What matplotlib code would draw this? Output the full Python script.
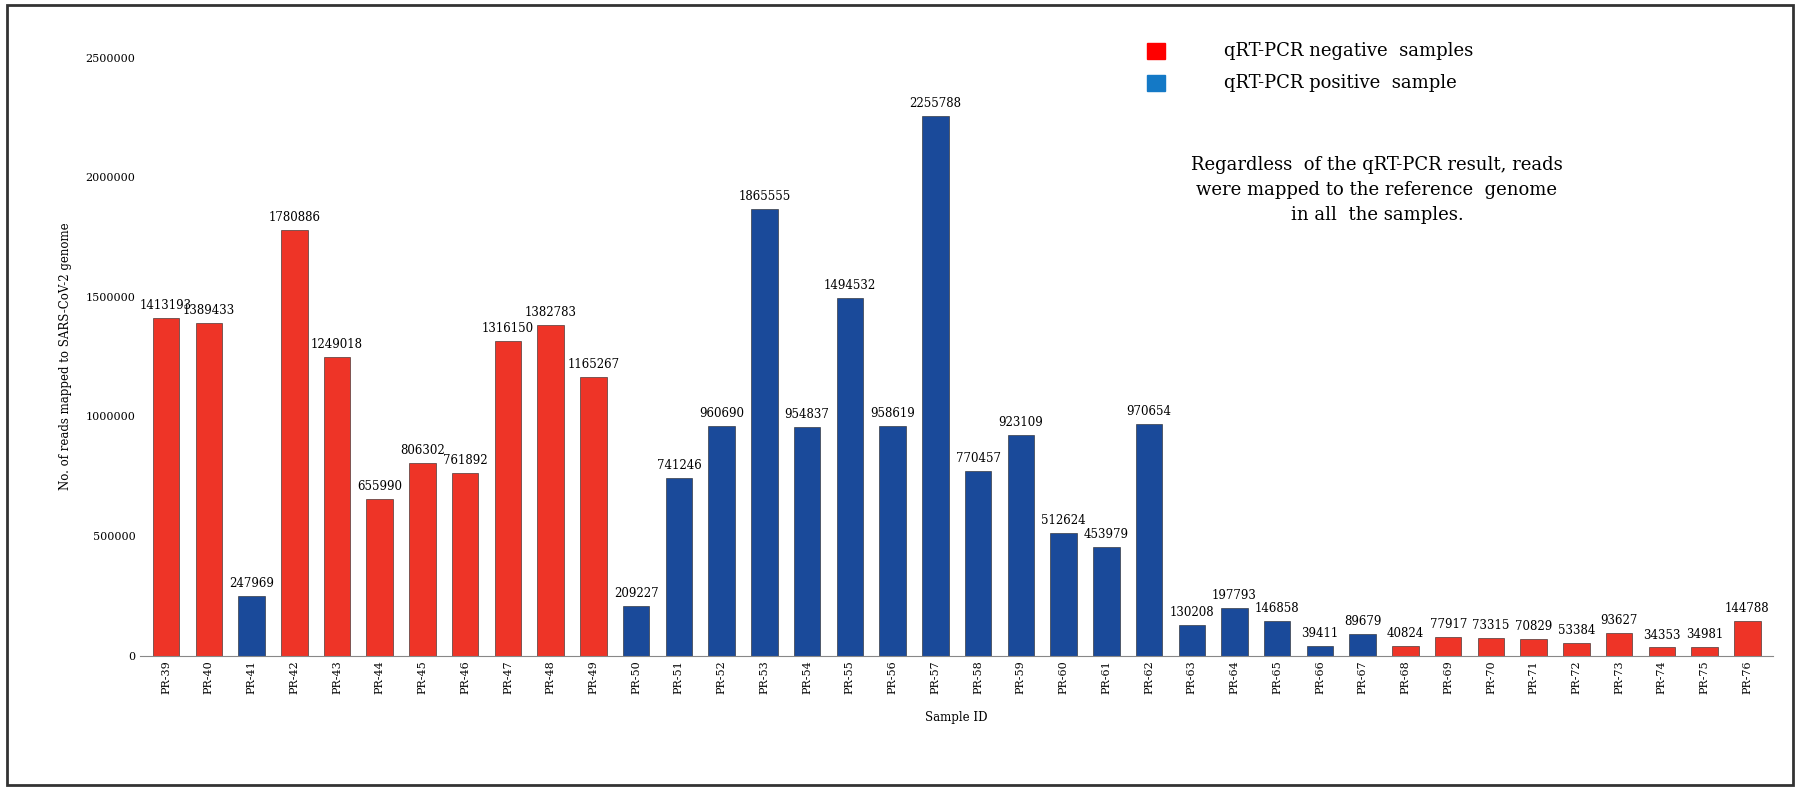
import matplotlib
matplotlib.use("Agg")
import matplotlib.pyplot as plt
from matplotlib.patches import Rectangle

samples = [f"PR-{i}" for i in range(39, 77)]
reads = [1413193, 1389433, 247969, 1780886, 1249018, 655990, 806302, 761892,
         1316150, 1382783, 1165267, 209227, 741246, 960690, 1865555, 954837,
         1494532, 958619, 2255788, 770457, 923109, 512624, 453979, 970654,
         130208, 197793, 146858, 39411, 89679, 40824, 77917, 73315, 70829,
         53384, 93627, 34353, 34981, 144788]
status = ["N", "N", "P", "N", "N", "N", "N", "N", "N", "N", "N", "P", "P", "P",
          "P", "P", "P", "P", "P", "P", "P", "P", "P", "P", "P", "P", "P", "P",
          "P", "N", "N", "N", "N", "N", "N", "N", "N", "N"]
RED, BLUE = "#EE3427", "#1A4A9A"
colors = [RED if s == "N" else BLUE for s in status]

fig = plt.figure(figsize=(18, 7.9), dpi=100)
fig.patches.append(Rectangle((0.004, 0.006), 0.992, 0.988, transform=fig.transFigure,
                             fill=False, lw=2, ec="#333333"))
ax = fig.add_axes([0.078, 0.17, 0.907, 0.757])
x = range(len(samples))
ax.bar(x, reads, width=0.62, color=colors, edgecolor="#222222", linewidth=0.4, zorder=2)
for i, v in enumerate(reads):
    ax.text(i, v + 25000, str(v), ha="center", va="bottom", fontsize=8.5, family="DejaVu Serif")
ax.set_xlim(-0.6, len(samples) - 0.4)
ax.set_ylim(0, 2500000)
ax.set_yticks(range(0, 2500001, 500000))
ax.set_yticklabels([str(t) for t in range(0, 2500001, 500000)], fontsize=8, family="DejaVu Serif")
ax.set_xticks(list(x))
ax.set_xticklabels(samples, rotation=90, fontsize=8, family="DejaVu Serif")
ax.tick_params(length=0)
for s in ["top", "right", "left"]:
    ax.spines[s].set_visible(False)
ax.spines["bottom"].set_color("#888888")
ax.set_xlabel("Sample ID", fontsize=8.5, family="DejaVu Serif", labelpad=12)
ax.set_ylabel("No. of reads mapped to SARS-CoV-2 genome", fontsize=8.5, family="DejaVu Serif", labelpad=10)

fig.patches.append(Rectangle((0.637, 0.925), 0.010, 0.02, transform=fig.transFigure, color="#FF0000"))
fig.patches.append(Rectangle((0.637, 0.885), 0.010, 0.02, transform=fig.transFigure, color="#1479C6"))
fig.text(0.68, 0.935, "qRT-PCR negative  samples", fontsize=13, family="DejaVu Serif", va="center")
fig.text(0.68, 0.895, "qRT-PCR positive  sample", fontsize=13, family="DejaVu Serif", va="center")
fig.text(0.765, 0.76, "Regardless  of the qRT-PCR result, reads\nwere mapped to the reference  genome\nin all  the samples.",
         fontsize=13, family="DejaVu Serif", ha="center", va="center", linespacing=1.5)
fig.savefig("out.png", dpi=100)
